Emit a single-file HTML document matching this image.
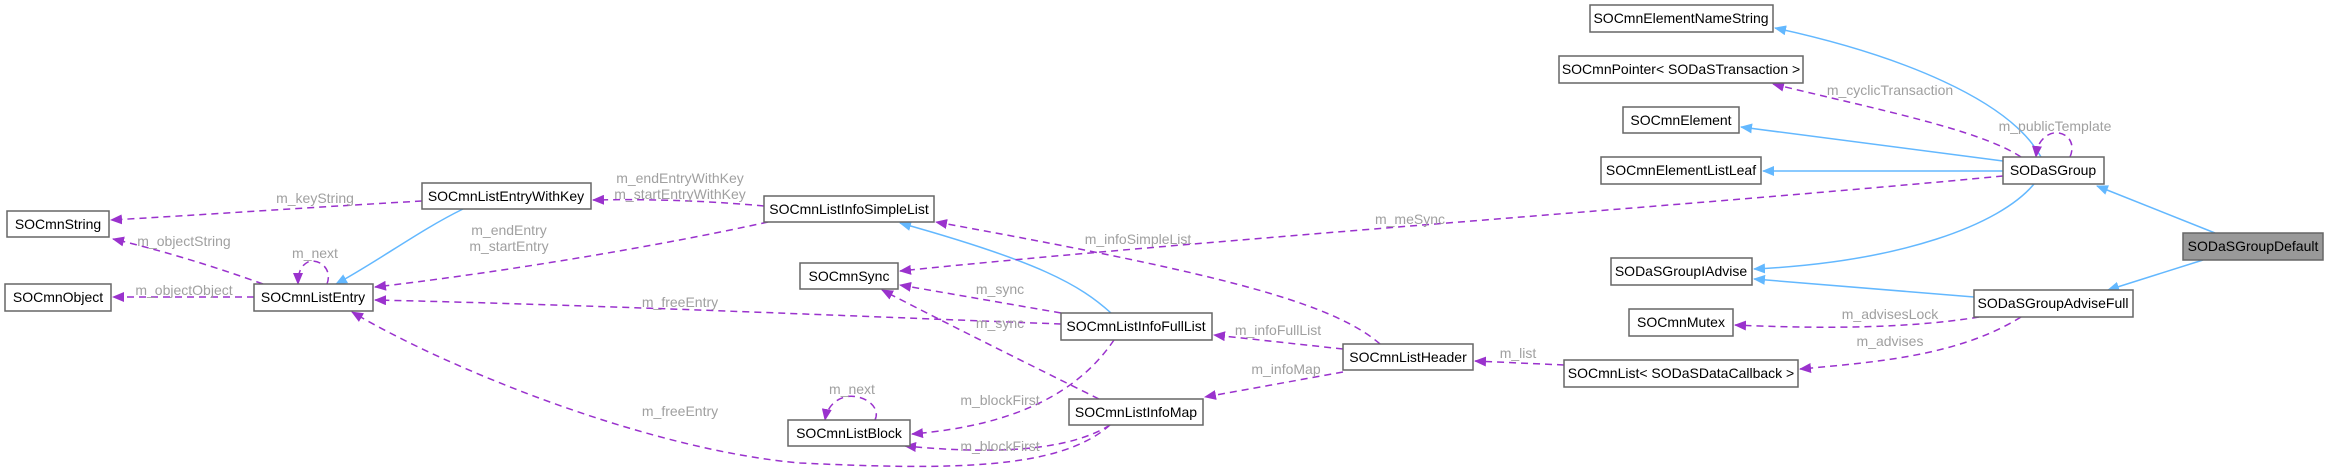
<!DOCTYPE html>
<html><head><meta charset="utf-8"><style>
html,body{margin:0;padding:0;background:#fff;}
svg{display:block;}
text{font-family:"Liberation Sans",sans-serif;font-size:14px;}
.n{fill:#000;text-anchor:middle;}
.l{fill:#a0a0a0;text-anchor:middle;}
.b{fill:#fff;stroke:#666;stroke-width:1.5;}
.i{fill:none;stroke:#63b8ff;stroke-width:1.5;}
.u{fill:none;stroke:#9a32cd;stroke-width:1.5;stroke-dasharray:7,5;}
</style></head><body>
<svg width="2328" height="473" viewBox="0 0 2328 473" xmlns="http://www.w3.org/2000/svg">
<defs>
<marker id="ab" markerWidth="12" markerHeight="10" refX="11" refY="5" orient="auto" markerUnits="userSpaceOnUse"><path d="M0,0 L12,5 L0,10 Z" fill="#63b8ff"/></marker>
<marker id="ap" markerWidth="12" markerHeight="10" refX="11" refY="5" orient="auto" markerUnits="userSpaceOnUse"><path d="M0,0 L12,5 L0,10 Z" fill="#9a32cd"/></marker>
</defs>
<!-- inheritance -->
<path class="i" marker-end="url(#ab)" d="M2215,233 L2097,186"/>
<path class="i" marker-end="url(#ab)" d="M2203,260 L2108,290"/>
<path class="i" marker-end="url(#ab)" d="M2041,157 C2010,100 1900,55 1775,28"/>
<path class="i" marker-end="url(#ab)" d="M2003,161 L1741,127"/>
<path class="i" marker-end="url(#ab)" d="M2003,171 L1763,171"/>
<path class="i" marker-end="url(#ab)" d="M2034,184 C2000,225 1900,262 1754,269"/>
<path class="i" marker-end="url(#ab)" d="M1974,297 L1754,279"/>
<path class="i" marker-end="url(#ab)" d="M463,209 C420,230 380,260 336,284"/>
<path class="i" marker-end="url(#ab)" d="M1111,313 C1080,285 1040,262 900,223"/>
<!-- usage -->
<path class="u" marker-end="url(#ap)" d="M2021,157 C1980,130 1880,110 1773,84"/>
<path class="u" marker-end="url(#ap)" d="M2070,157 C2078,138 2060,128 2048,135 C2040,140 2037,146 2036,157"/>
<path class="u" marker-end="url(#ap)" d="M2003,176 C1700,205 1200,240 900,271"/>
<path class="u" marker-end="url(#ap)" d="M1979,317 C1900,330 1800,328 1735,325"/>
<path class="u" marker-end="url(#ap)" d="M2021,317 C1960,355 1880,362 1800,369"/>
<path class="u" marker-end="url(#ap)" d="M1564,365 L1475,361"/>
<path class="u" marker-end="url(#ap)" d="M1380,344 C1330,300 1200,270 936,222"/>
<path class="u" marker-end="url(#ap)" d="M1343,349 L1214,335"/>
<path class="u" marker-end="url(#ap)" d="M1343,372 L1205,397"/>
<path class="u" marker-end="url(#ap)" d="M1061,313 L900,285"/>
<path class="u" marker-end="url(#ap)" d="M1099,399 C1020,360 940,320 882,290"/>
<path class="u" marker-end="url(#ap)" d="M1061,324 C900,318 600,305 375,300"/>
<path class="u" marker-end="url(#ap)" d="M1114,340 C1080,390 1020,425 912,434"/>
<path class="u" marker-end="url(#ap)" d="M1110,425 C1070,450 1000,455 905,446"/>
<path class="u" marker-end="url(#ap)" d="M1110,425 C1060,470 950,470 800,463 C650,450 450,370 352,312"/>
<path class="u" marker-end="url(#ap)" d="M875,420 C882,405 860,393 845,397 C834,400 827,408 825,420"/>
<path class="u" marker-end="url(#ap)" d="M764,206 C700,200 640,199 593,200"/>
<path class="u" marker-end="url(#ap)" d="M768,222 C640,250 480,275 375,287"/>
<path class="u" marker-end="url(#ap)" d="M422,201 C300,208 200,215 111,220"/>
<path class="u" marker-end="url(#ap)" d="M263,284 C210,265 160,250 113,239"/>
<path class="u" marker-end="url(#ap)" d="M254,297 L113,297"/>
<path class="u" marker-end="url(#ap)" d="M327,284 C333,268 318,258 308,262 C300,266 298,274 298,284"/>
<!-- labels -->
<text class="l" x="1890" y="95">m_cyclicTransaction</text>
<text class="l" x="2055" y="131">m_publicTemplate</text>
<text class="l" x="1410" y="224">m_meSync</text>
<text class="l" x="1890" y="319">m_advisesLock</text>
<text class="l" x="1890" y="346">m_advises</text>
<text class="l" x="1518" y="358">m_list</text>
<text class="l" x="1138" y="244">m_infoSimpleList</text>
<text class="l" x="1278" y="335">m_infoFullList</text>
<text class="l" x="1286" y="374">m_infoMap</text>
<text class="l" x="1000" y="294">m_sync</text>
<text class="l" x="1000" y="328">m_sync</text>
<text class="l" x="680" y="307">m_freeEntry</text>
<text class="l" x="1000" y="405">m_blockFirst</text>
<text class="l" x="1000" y="451">m_blockFirst</text>
<text class="l" x="680" y="416">m_freeEntry</text>
<text class="l" x="852" y="394">m_next</text>
<text class="l" x="680" y="183">m_endEntryWithKey</text>
<text class="l" x="680" y="199">m_startEntryWithKey</text>
<text class="l" x="509" y="235">m_endEntry</text>
<text class="l" x="509" y="251">m_startEntry</text>
<text class="l" x="315" y="203">m_keyString</text>
<text class="l" x="184" y="246">m_objectString</text>
<text class="l" x="184" y="295">m_objectObject</text>
<text class="l" x="315" y="258">m_next</text>
<!-- nodes -->
<rect class="b" x="7" y="211" width="102" height="26"/><text class="n" x="58" y="229">SOCmnString</text>
<rect class="b" x="5" y="284" width="106" height="27"/><text class="n" x="58" y="302">SOCmnObject</text>
<rect class="b" x="254" y="284" width="119" height="27"/><text class="n" x="313" y="302">SOCmnListEntry</text>
<rect class="b" x="422" y="183" width="169" height="26"/><text class="n" x="506" y="201">SOCmnListEntryWithKey</text>
<rect class="b" x="764" y="196" width="170" height="26"/><text class="n" x="849" y="214">SOCmnListInfoSimpleList</text>
<rect class="b" x="800" y="263" width="98" height="26"/><text class="n" x="849" y="281">SOCmnSync</text>
<rect class="b" x="1061" y="313" width="151" height="27"/><text class="n" x="1136" y="331">SOCmnListInfoFullList</text>
<rect class="b" x="1343" y="344" width="130" height="26"/><text class="n" x="1408" y="362">SOCmnListHeader</text>
<rect class="b" x="1069" y="399" width="134" height="26"/><text class="n" x="1136" y="417">SOCmnListInfoMap</text>
<rect class="b" x="788" y="420" width="122" height="26"/><text class="n" x="849" y="438">SOCmnListBlock</text>
<rect class="b" x="1590" y="5" width="183" height="27"/><text class="n" x="1681" y="23">SOCmnElementNameString</text>
<rect class="b" x="1559" y="56" width="244" height="27"/><text class="n" x="1681" y="74">SOCmnPointer&lt; SODaSTransaction &gt;</text>
<rect class="b" x="1623" y="107" width="116" height="26"/><text class="n" x="1681" y="125">SOCmnElement</text>
<rect class="b" x="1601" y="157" width="160" height="27"/><text class="n" x="1681" y="175">SOCmnElementListLeaf</text>
<rect class="b" x="2003" y="157" width="101" height="27"/><text class="n" x="2053" y="175">SODaSGroup</text>
<rect x="2183" y="233" width="140" height="27" fill="#999" stroke="#666" stroke-width="1.5"/><text class="n" x="2253" y="251">SODaSGroupDefault</text>
<rect class="b" x="1611" y="258" width="141" height="27"/><text class="n" x="1681" y="276">SODaSGroupIAdvise</text>
<rect class="b" x="1974" y="290" width="159" height="27"/><text class="n" x="2053" y="308">SODaSGroupAdviseFull</text>
<rect class="b" x="1629" y="309" width="104" height="27"/><text class="n" x="1681" y="327">SOCmnMutex</text>
<rect class="b" x="1564" y="360" width="234" height="27"/><text class="n" x="1681" y="378">SOCmnList&lt; SODaSDataCallback &gt;</text>
</svg>
</body></html>
